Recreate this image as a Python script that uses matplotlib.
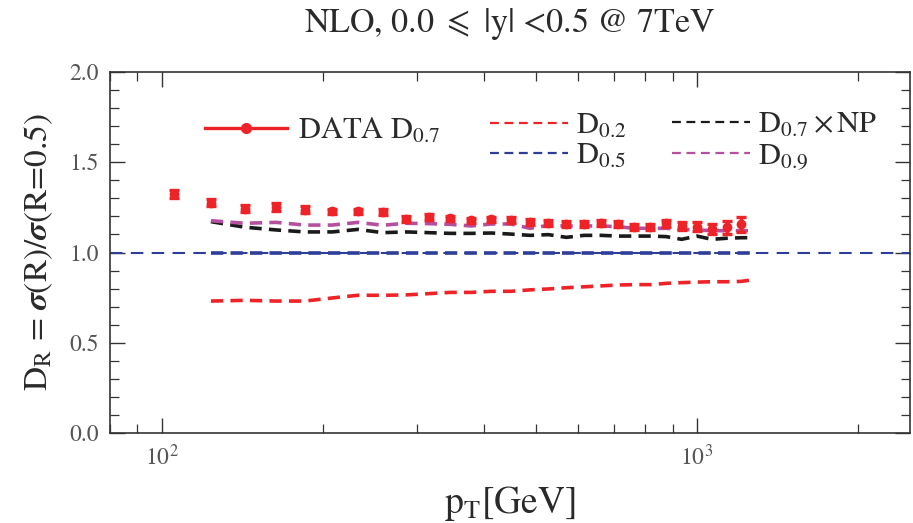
import matplotlib
matplotlib.use("Agg")
import matplotlib.pyplot as plt
from matplotlib.lines import Line2D
from matplotlib.ticker import LogLocator, MultipleLocator, NullFormatter, FixedLocator
import numpy as np

plt.rcParams['mathtext.fontset'] = 'stix'
plt.rcParams['font.family'] = ['STIXGeneral', 'DejaVu Serif']

# ---- data ----
pt_data = [105.5, 123.5, 143, 163.5, 185, 208, 232.5, 258.5, 286, 315, 346, 378.5,
           412.5, 449, 487.5, 527.5, 570, 615, 662, 711.5, 763.5, 818, 875.5, 936,
           999.5, 1066.5, 1136.5, 1210]
d07_data = [1.322, 1.276, 1.243, 1.252, 1.237, 1.228, 1.228, 1.224, 1.186, 1.197,
            1.189, 1.178, 1.184, 1.179, 1.171, 1.162, 1.156, 1.160, 1.163, 1.156,
            1.140, 1.140, 1.162, 1.147, 1.143, 1.130, 1.140, 1.156]
d07_err = [0.022, 0.018, 0.018, 0.020, 0.018, 0.015, 0.015, 0.018, 0.016, 0.016,
           0.015, 0.015, 0.015, 0.015, 0.016, 0.016, 0.016, 0.016, 0.016, 0.016,
           0.016, 0.016, 0.018, 0.022, 0.025, 0.030, 0.035, 0.040]

pt_theory = [123.5, 143, 163.5, 185, 208, 232.5, 258.5, 286, 315, 346, 378.5,
             412.5, 449, 487.5, 527.5, 570, 615, 662, 711.5, 763.5, 818, 875.5, 936,
             999.5, 1066.5, 1136.5, 1210, 1262]
d02 = [0.731, 0.735, 0.731, 0.731, 0.748, 0.763, 0.763, 0.765, 0.772, 0.779, 0.779,
       0.785, 0.785, 0.793, 0.798, 0.805, 0.810, 0.815, 0.820, 0.822, 0.822, 0.829,
       0.833, 0.836, 0.838, 0.838, 0.840, 0.848]
d05 = [1.0] * 28
d07np = [1.171, 1.140, 1.125, 1.114, 1.114, 1.128, 1.110, 1.114, 1.110, 1.106, 1.106,
         1.108, 1.102, 1.095, 1.099, 1.084, 1.095, 1.095, 1.091, 1.091, 1.091, 1.088,
         1.073, 1.091, 1.073, 1.079, 1.082, 1.082]
d09 = [1.176, 1.162, 1.167, 1.152, 1.152, 1.167, 1.151, 1.162, 1.160, 1.156, 1.147,
       1.158, 1.158, 1.134, 1.150, 1.147, 1.147, 1.147, 1.143, 1.134, 1.134, 1.134,
       1.128, 1.125, 1.121, 1.121, 1.121, 1.121]
ref_x = [80, 2500]
ref_y = [1.0, 1.0]

RED = '#ee2328'
BLUE = '#2e3e98'
BLACK = '#1a1a1a'
MAG = '#b5509f'
GRAY = '#555555'
TXT = '#2a2a2a'

fig = plt.figure(figsize=(9.13, 5.23), dpi=100)
ax = fig.add_axes([0.1205, 0.1721, 0.8762, 0.6902])

ax.plot(ref_x, ref_y, color=BLUE, lw=1.5, dashes=(6, 4))
dash = (3.4, 2.0)
ax.plot(pt_theory, d05, color=BLUE, lw=2.6, dashes=dash)
ax.plot(pt_theory, d02, color=RED, lw=2.6, dashes=dash)
ax.plot(pt_theory, d07np, color=BLACK, lw=2.6, dashes=dash)
ax.plot(pt_theory, d09, color=MAG, lw=2.6, dashes=dash)
ax.errorbar(pt_data, d07_data, yerr=d07_err, fmt='o', color=RED, ms=6,
            elinewidth=2.4, capsize=3.5, capthick=2.4, zorder=5)

ax.set_xscale('log')
ax.set_xlim(80, 2500)
ax.set_ylim(0, 2.0)
ax.xaxis.set_major_locator(FixedLocator([100, 1000]))
ax.xaxis.set_minor_locator(LogLocator(base=10, subs=np.arange(2, 10)))
ax.xaxis.set_minor_formatter(NullFormatter())
ax.set_xticklabels([r'$10^2$', r'$10^3$'])
ax.yaxis.set_major_locator(MultipleLocator(0.5))
ax.yaxis.set_minor_locator(MultipleLocator(0.1))
ax.set_yticks([0, 0.5, 1.0, 1.5, 2.0])
ax.set_yticklabels(['0.0', '0.5', '1.0', '1.5', '2.0'])

ax.tick_params(which='both', direction='in', top=True, right=True, color='#333333',
               labelcolor=GRAY, labelsize=17)
ax.tick_params(which='major', length=11, width=1.0, pad=8)
ax.tick_params(which='minor', length=6.5, width=0.9)
for s in ax.spines.values():
    s.set_color('#333333')
    s.set_linewidth(1.2)

ax.set_xlabel(r'p$_\mathrm{T}$[GeV]', fontsize=27, color=TXT, labelpad=10)
ax.set_ylabel(r'D$_\mathrm{R}$ = $\mathbfit{\sigma}$(R)/$\mathbfit{\sigma}$(R=0.5)',
              fontsize=24, color=TXT, labelpad=10)
fig.text(0.5586, 0.955, r'NLO, 0.0 $\leqslant$ |y| <0.5 @ 7TeV', ha='center',
         va='center', fontsize=24.5, color=TXT)

# ---- legends ----
h_data = Line2D([], [], color=RED, lw=2.4, marker='o', ms=7)
leg1 = fig.legend([h_data], [r'DATA D$_{0.7}$'], loc='center left',
                  bbox_to_anchor=(0.2245, 0.7495), frameon=False, fontsize=22,
                  handlelength=2.7, handletextpad=0.33, borderpad=0, borderaxespad=0)
h02 = Line2D([], [], color=RED, lw=1.6, dashes=(4, 2.5))
h05 = Line2D([], [], color=BLUE, lw=1.6, dashes=(4, 2.5))
leg2 = fig.legend([h02, h05], [r'D$_{0.2}$', r'D$_{0.5}$'], loc='center left',
                  bbox_to_anchor=(0.5367, 0.7294), frameon=False, fontsize=22,
                  handlelength=2.55, handletextpad=0.25, borderpad=0, borderaxespad=0,
                  labelspacing=0.08)
h07 = Line2D([], [], color=BLACK, lw=1.6, dashes=(4, 2.5))
h09 = Line2D([], [], color=MAG, lw=1.6, dashes=(4, 2.5))
leg3 = fig.legend([h07, h09], [r'D$_{0.7}\times$NP', r'D$_{0.9}$'], loc='center left',
                  bbox_to_anchor=(0.736, 0.7294), frameon=False, fontsize=22,
                  handlelength=2.55, handletextpad=0.25, borderpad=0, borderaxespad=0,
                  labelspacing=0.08)
for lg in (leg1, leg2, leg3):
    for t in lg.get_texts():
        t.set_color(TXT)

fig.savefig('out.png', dpi=100)
